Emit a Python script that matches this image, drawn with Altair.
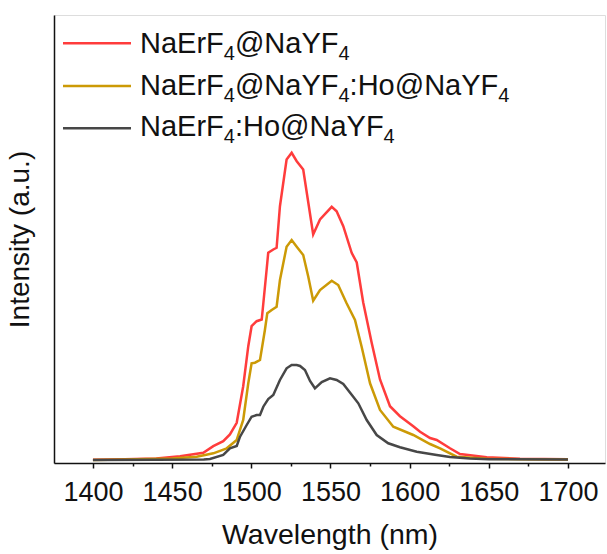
import altair as alt
import pandas as pd

# Emission spectra (intensity in arbitrary units) vs wavelength in nm
wl_red = [1400, 1420, 1440, 1455, 1469.7, 1476.0, 1482.3, 1486.5, 1490.8, 1494.9, 1498.1,
          1500.2, 1503.4, 1506.6, 1509.7, 1510.7, 1513.9, 1516.0, 1518.1, 1522.3, 1525.5,
          1528.7, 1532.8, 1536.0, 1539.1, 1543.4, 1550.8, 1553.9, 1558.1, 1563.4, 1566.6,
          1570.7, 1576.0, 1581.3, 1587.6, 1593.9, 1602.3, 1606.6, 1612.9, 1617.1, 1625.5,
          1631.8, 1648.7, 1669.7, 1700]
int_red = [0.3, 0.8, 1.5, 3.8, 7.2, 13.8, 18.8, 25.5, 37.2, 73.8, 113.8,
           133.8, 138.8, 140.5, 190.5, 207.2, 210.5, 212.2, 253.8, 300.5, 307.2,
           298.8, 290.5, 257.5, 225.5, 240.5, 253.2, 248.8, 233.8, 207.2, 197.5,
           157.5, 117.5, 80.5, 53.8, 43.8, 33.8, 28.3, 22.0, 20.0, 11.7,
           6.0, 2.7, 1.3, 0.7]

wl_gold = [1400, 1420, 1450, 1465.5, 1476.0, 1484.5, 1490.8, 1494.9, 1498.1, 1500.2,
           1502.3, 1505.5, 1508.6, 1510.1, 1512.9, 1516.0, 1518.1, 1522.3, 1525.5, 1528.7,
           1532.8, 1536.0, 1539.1, 1543.4, 1550.8, 1554.9, 1560.2, 1565.5, 1569.7, 1575.0,
           1581.3, 1589.7, 1602.3, 1612.9, 1619.2, 1629.7, 1648.7, 1670, 1700]
int_gold = [0.0, 0.5, 1.5, 3.3, 6.7, 11.7, 20.0, 40.0, 76.7, 96.7,
            97.3, 100.0, 130.0, 146.7, 150.0, 153.3, 180.0, 213.3, 220.0, 213.3,
            205.0, 183.3, 159.3, 170.0, 179.3, 175.0, 156.7, 140.0, 113.3, 76.7,
            50.0, 33.3, 25.0, 16.0, 11.7, 3.3, 1.3, 0.8, 0.5]

wl_gray = [1400, 1440, 1470, 1473.9, 1482.3, 1486.5, 1490.8, 1492.9, 1497.1, 1500.2,
           1503.4, 1505.5, 1507.6, 1510.7, 1513.9, 1518.1, 1522.3, 1525.5, 1528.7, 1530.8,
           1533.9, 1537.1, 1540.2, 1544.5, 1549.7, 1553.9, 1558.1, 1564.4, 1567.6, 1572.9,
           1579.2, 1586.5, 1593.9, 1604.5, 1617.1, 1625.5, 1638.0, 1650, 1700]
int_gray = [0.0, 0.2, 0.5, 1.0, 5.0, 11.7, 14.0, 23.3, 35.0, 43.3,
            45.0, 45.0, 53.3, 61.0, 65.0, 80.0, 91.7, 95.0, 95.0, 94.0,
            90.0, 79.0, 71.7, 78.0, 81.7, 80.0, 76.0, 63.3, 56.7, 40.0,
            25.0, 16.7, 12.7, 8.3, 5.0, 3.0, 1.5, 0.8, 0.5]

# "_4" marks a subscript 4 in the series names
names = ["NaErF_4@NaYF_4", "NaErF_4@NaYF_4:Ho@NaYF_4", "NaErF_4:Ho@NaYF_4"]
colors = ["#FF3C3C", "#CC9A06", "#474747"]

all_ticks = list(range(1400, 1701, 25))

FONT = "Liberation Sans"
W, H = 551, 448

rows = []
for name, wl, iv in zip(names, [wl_red, wl_gold, wl_gray], [int_red, int_gold, int_gray]):
    for w, v in zip(wl, iv):
        rows.append({"series": name, "wl": w, "intensity": v})
spec = pd.DataFrame(rows)

x_scale = alt.Scale(domain=[1375.4, 1723.4], nice=False, zero=False)
y_scale = alt.Scale(domain=[-3, 445], nice=False, zero=False)

x_axis = alt.Axis(
    values=all_ticks,
    labelExpr="datum.value % 50 === 0 ? datum.label : ''",
    labelOverlap=False,
    labelFlush=False,
    format="d",
    title="Wavelength (nm)",
    titleFont=FONT, titleFontSize=28.5, titleFontWeight="normal", titleColor="#111",
    titlePadding=15,
    labelFont=FONT, labelFontSize=27, labelColor="#111", labelPadding=11,
    domainColor="#111", domainWidth=1.5,
    tickColor="#111", tickWidth=1.5,
    tickSize={"condition": {"test": "datum.value % 50 === 0", "value": 5}, "value": 3},
    grid=False,
)
y_axis = alt.Axis(
    labels=False, ticks=False, grid=False,
    title="Intensity (a.u.)",
    titleFont=FONT, titleFontSize=28, titleFontWeight="normal", titleColor="#111",
    titlePadding=20,
    domainColor="#111", domainWidth=1.5,
)

lines = alt.Chart(spec).mark_line(strokeWidth=2.5, interpolate="linear").encode(
    x=alt.X("wl:Q", scale=x_scale, axis=x_axis),
    y=alt.Y("intensity:Q", scale=y_scale, axis=y_axis),
    color=alt.Color("series:N", scale=alt.Scale(domain=names, range=colors), legend=None),
    order=alt.Order("wl:Q"),
    detail="series:N",
)

# Legend drawn inside the frame, top-left, with real subscripts
CW = {"N": 0.722, "a": 0.556, "E": 0.667, "r": 0.333, "F": 0.611, "@": 1.015,
      "Y": 0.667, ":": 0.278, "H": 0.722, "o": 0.556, "4": 0.556}
FS_MAIN, FS_SUB = 29, 20
line_y = [28.3, 71.0, 113.3]
base_y = [38.0, 80.0, 121.0]
SUB_DROP = 6.7
leg_lines = pd.DataFrame({"ly": line_y, "color": colors})
pieces = []
for name, by in zip(names, base_y):
    x = 86.0
    parts = name.split("_")
    for i, part in enumerate(parts):
        segs = [(part, False)] if i == 0 else [(part[0], True), (part[1:], False)]
        for txt, sub in segs:
            if not txt:
                continue
            fs = FS_SUB if sub else FS_MAIN
            pieces.append({"t": txt, "px": x, "py": by + (SUB_DROP if sub else 0.0), "fs": fs})
            x += sum(CW.get(c, 0.556) for c in txt) * fs
leg_text = pd.DataFrame(pieces)

legend_rules = alt.Chart(leg_lines).mark_rule(strokeWidth=2.5).encode(
    x=alt.value(9), x2=alt.value(77),
    y=alt.Y("ly:Q", scale=None),
    color=alt.Color("color:N", scale=None),
)
legend_labels = alt.Chart(leg_text).mark_text(
    align="left", baseline="alphabetic", font=FONT, color="#111"
).encode(
    x=alt.X("px:Q", scale=None),
    y=alt.Y("py:Q", scale=None),
    text="t:N",
    size=alt.Size("fs:Q", scale=None),
)

chart = alt.layer(lines, legend_rules, legend_labels).properties(
    width=W, height=H,
    autosize=alt.AutoSizeParams(type="none"),
    padding={"left": 54, "top": 15, "right": 2, "bottom": 91},
).configure_view(stroke="#111", strokeWidth=1.5).configure(background="white")

chart.save("out.html", embed_options={"renderer": "svg", "actions": False})
